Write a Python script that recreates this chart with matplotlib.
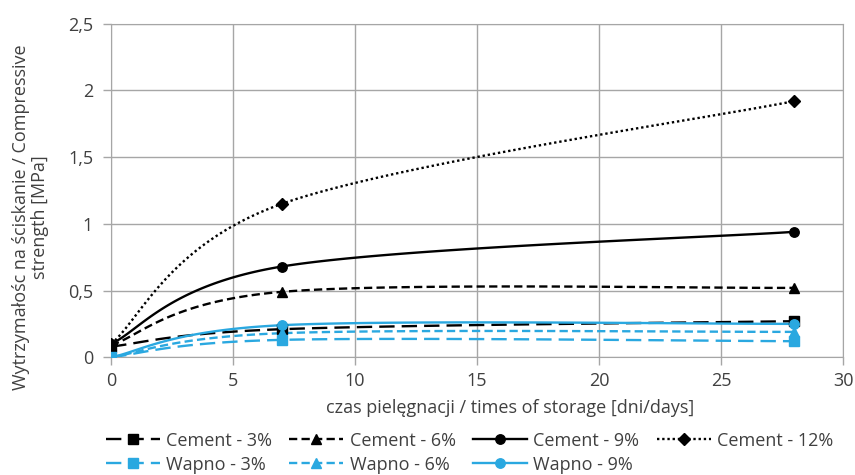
import numpy as np
import matplotlib
matplotlib.use("Agg")
import matplotlib.pyplot as plt
from matplotlib.ticker import FuncFormatter, MultipleLocator

plt.rcParams['font.family'] = ['Open Sans', 'DejaVu Sans']

days = [0, 7, 28]
cement_3 = [0.08, 0.21, 0.27]
cement_6 = [0.09, 0.49, 0.52]
cement_9 = [0.10, 0.68, 0.94]
cement_12 = [0.10, 1.15, 1.92]
wapno_3 = [0.0, 0.13, 0.12]
wapno_6 = [0.0, 0.18, 0.19]
wapno_9 = [0.0, 0.24, 0.25]

BLACK = '#000000'
BLUE = '#2AA8E0'
TXT = '#404040'
FS = 13

LONG = (0, (6.5, 3))
DASH = (0, (3.5, 1.8))
DOT = (0, (1, 1.2))

series = [
    ("Cement - 3%", cement_3, BLACK, LONG, 's'),
    ("Cement - 6%", cement_6, BLACK, DASH, '^'),
    ("Cement - 9%", cement_9, BLACK, '-', 'o'),
    ("Cement - 12%", cement_12, BLACK, DOT, 'D'),
    ("Wapno - 3%", wapno_3, BLUE, LONG, 's'),
    ("Wapno - 6%", wapno_6, BLUE, DASH, '^'),
    ("Wapno - 9%", wapno_9, BLUE, '-', 'o'),
]


def smooth(x, y, n=60):
    """Catmull-Rom style Bezier smoothing (like spreadsheet smoothed lines)."""
    P = np.column_stack([x, y]).astype(float)
    out = []
    m = len(P)
    for i in range(m - 1):
        p0 = P[i - 1] if i > 0 else P[i]
        p1 = P[i]
        p2 = P[i + 1]
        p3 = P[i + 2] if i + 2 < m else P[i + 1]
        c1 = p1 + (p2 - p0) / 6.0
        c2 = p2 - (p3 - p1) / 6.0
        t = np.linspace(0, 1, n)[:, None]
        seg = ((1 - t) ** 3) * p1 + 3 * ((1 - t) ** 2) * t * c1 + 3 * (1 - t) * t ** 2 * c2 + t ** 3 * p2
        out.append(seg if i == 0 else seg[1:])
    s = np.vstack(out)
    return s[:, 0], s[:, 1]


fig = plt.figure(figsize=(8.55, 4.75), dpi=100)
ax = fig.add_axes([0.130, 0.248, 0.856, 0.702])

LW = 1.7
handles = {}
for label, vals, col, ls, mk in series:
    ms = 6.8 if mk != 'D' else 5.8
    sx, sy = smooth(days, vals)
    ax.plot(sx, sy, color=col, linestyle=ls, linewidth=LW, zorder=3)
    ax.plot(days, vals, linestyle='none', marker=mk, color=col,
            markersize=ms, zorder=4)
    h, = ax.plot([], [], color=col, linestyle=ls, linewidth=LW, marker=mk,
                 markersize=ms)
    handles[label] = h

ax.set_xlim(0, 30)
ax.set_ylim(0, 2.5)
ax.xaxis.set_major_locator(MultipleLocator(5))
ax.yaxis.set_major_locator(MultipleLocator(0.5))
ax.yaxis.set_major_formatter(FuncFormatter(lambda v, p: (f"{v:g}").replace('.', ',')))
ax.xaxis.set_major_formatter(FuncFormatter(lambda v, p: f"{v:g}"))

ax.grid(True, color='#A6A6A6', linewidth=1.0)
ax.set_axisbelow(True)
for s in ax.spines.values():
    s.set_color('#A6A6A6')
ax.tick_params(axis='both', colors='#A6A6A6', labelcolor=TXT,
               labelsize=FS, length=6, width=1)
ax.tick_params(axis='y', pad=7)
ax.tick_params(axis='x', pad=5)

ax.set_xlabel("czas pielęgnacji / times of storage [dni/days]", fontsize=FS,
              color=TXT)
ax.xaxis.set_label_coords(0.545, -0.125)
ax.set_ylabel("Wytrzymałośc na ściskanie / Compressive\nstrength [MPa]",
              fontsize=FS, color=TXT, linespacing=1.05)
ax.yaxis.set_label_coords(-0.085, 0.42)

order = ["Cement - 3%", "Wapno - 3%", "Cement - 6%", "Wapno - 6%",
         "Cement - 9%", "Wapno - 9%", "Cement - 12%"]
leg = fig.legend(handles=[handles[k] for k in order], labels=order, ncol=4,
                 loc='upper left', bbox_to_anchor=(0.113, 0.11), frameon=False,
                 fontsize=FS, handlelength=3.0, columnspacing=0.95,
                 handletextpad=0.35, labelspacing=0.32, borderpad=0)
for t in leg.get_texts():
    t.set_color(TXT)

fig.savefig("out.png", dpi=100)
